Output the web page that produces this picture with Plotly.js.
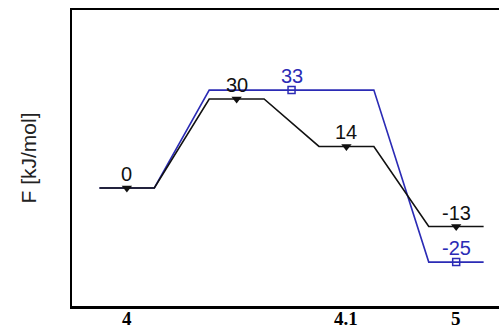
<!DOCTYPE html>
<html><head><meta charset="utf-8">
<script src="https://cdn.plot.ly/plotly-3.0.1.min.js"></script>
<style>html,body{margin:0;padding:0;background:#fff}#chart{width:499px;height:328px}</style>
</head><body><div id="chart"></div>
<script>
// state index (position along reaction coordinate) and energies
const states = [1, 2, 3, 4];
const blackEnergies = [0, 30, 14, -13];
const blackLabels = ['0', '30', '14', '-13'];
// blue path: shares state 1 level, one wide plateau over states 2-3, then state 4
const blueStates = [1, 2, 3, 4];
const blueEnergies = [0, 33, 33, -25];
const blueMarkStates = [2.5, 4];
const blueMarkEnergies = [33, -25];
const blueLabels = ['33', '-25'];
const tickStates = [1, 3, 4];
const tickLabels = ['4', '4.1', '5'];

const half = 0.25;
function stepPath(xs, ys) {
  const px = [], py = [];
  xs.forEach((x, i) => {
    if (i > 0 && ys[i] === ys[i - 1]) { px[px.length - 1] = x + half; return; }
    px.push(x - half, x + half); py.push(ys[i], ys[i]);
  });
  return {px, py};
}
const b = stepPath(states, blackEnergies);
const u = stepPath(blueStates, blueEnergies);
const blue = '#2b2bb5';
const lblFamily = 'Liberation Sans, Arial, sans-serif';

const data = [
  {x: u.px, y: u.py, mode: 'lines', line: {color: blue, width: 1.6}, hoverinfo: 'skip'},
  {x: b.px, y: b.py, mode: 'lines', line: {color: '#111', width: 1.6}, hoverinfo: 'skip'},
  {x: states, y: blackEnergies, mode: 'markers',
   marker: {symbol: 'triangle-down', size: 9, color: '#111'}},
  {x: blueMarkStates, y: blueMarkEnergies, mode: 'markers',
   marker: {symbol: 'square-open', size: 7, color: blue, line: {width: 1.5, color: blue}}}
];

function labels(xs, ys, txt, color) {
  return xs.map((x, i) => ({x: x, y: ys[i], text: txt[i], showarrow: false,
    xanchor: 'center', yanchor: 'bottom', yshift: 1,
    font: {family: lblFamily, size: 20, color: color}}));
}
const tickAnn = tickStates.map((x, i) => ({x: x, xref: 'x', y: 0, yref: 'paper',
  text: '<b>' + tickLabels[i] + '</b>', showarrow: false, xanchor: 'center', yanchor: 'top', yshift: 0,
  font: {family: 'Liberation Serif, Times New Roman, serif', size: 19, color: '#000'}}));
const annotations = labels(states, blackEnergies, blackLabels, '#111')
  .concat(labels(blueMarkStates, blueMarkEnergies, blueLabels, blue))
  .concat(tickAnn);

const layout = {
  width: 499, height: 328,
  margin: {l: 72, r: 0, t: 10, b: 22},
  paper_bgcolor: '#fff', plot_bgcolor: '#fff',
  showlegend: false,
  annotations: annotations,
  xaxis: {range: [0.5, 4.39], showgrid: false, zeroline: false,
    showline: true, linecolor: '#000', linewidth: 2.5, mirror: true,
    showticklabels: false, ticks: ''},
  yaxis: {range: [-39.8, 60], showgrid: false, zeroline: false,
    showline: true, linecolor: '#000', linewidth: 2, mirror: false,
    showticklabels: false, ticks: '',
    title: {text: 'F [kJ/mol]', standoff: 28, font: {family: lblFamily, size: 21, color: '#222'}}}
};
Plotly.newPlot('chart', data, layout, {staticPlot: true, displayModeBar: false});
</script></body></html>
